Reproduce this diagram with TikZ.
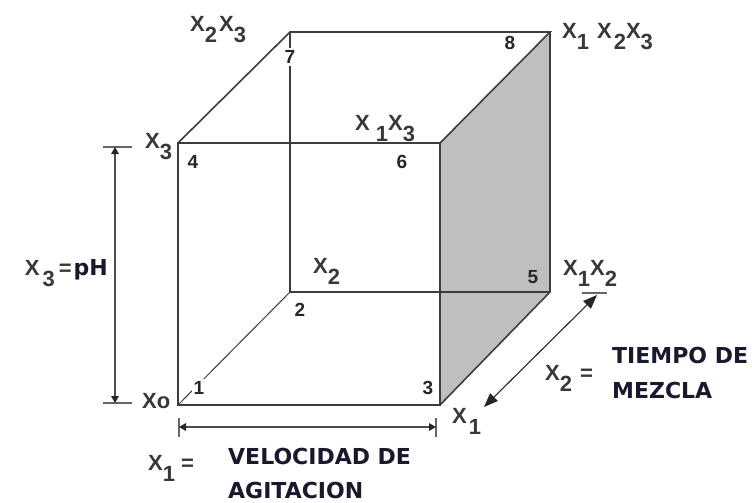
\documentclass[tikz,border=0pt]{standalone}
\usepackage{fontspec}
\setmainfont{Liberation Sans}
\newfontfamily\dvs{DejaVu Sans}
\usetikzlibrary{calc}
\definecolor{titlecol}{RGB}{25,25,45}
\definecolor{edgecol}{RGB}{60,60,60}
\newcommand\sbx[1]{\raisebox{-11pt}{#1}}
% filled arrow tip: tip point, point it comes from, length, half width
\newcommand\arrtip[4]{\fill[black!85] (#1) -- ($(#1)!#3!(#2)!#4!90:(#1)$) -- ($(#1)!#3!(#2)!#4!-90:(#1)$) -- cycle;}
\tikzset{
  edge/.style={draw=edgecol, line width=1.6pt, line join=miter},
  thinedge/.style={draw=edgecol, line width=1pt},
  dimline/.style={draw=black!70, line width=1.4pt},
  tickline/.style={draw=black!60, line width=1.4pt},
  lbl/.style={font=\bfseries\fontsize{22}{22}\selectfont, inner sep=0pt, anchor=base west, text=black!78},
  num/.style={font=\bfseries\fontsize{19}{19}\selectfont, inner sep=2pt, text=black!85},
  ttl/.style={font=\dvs\bfseries\fontsize{22}{26}\selectfont, text=titlecol, inner sep=0pt, anchor=base west},
}
\begin{document}
\begin{tikzpicture}[x=1pt,y=1pt]
\useasboundingbox (0,0) rectangle (752,-503);
% cube corners
\coordinate (c1) at (178,-405);
\coordinate (c3) at (440,-405);
\coordinate (c4) at (178,-143);
\coordinate (c6) at (440,-143);
\coordinate (c2) at (290,-292);
\coordinate (c5) at (550,-292);
\coordinate (c7) at (290,-32);
\coordinate (c8) at (550,-32);
% shaded side
\fill[gray!50] (c6) -- (c8) -- (c5) -- (c3) -- cycle;
% hidden edges
\draw[thinedge] (c1) -- (c2);
\draw[edge] (c7) -- (c2) -- (c5);
% visible edges
\draw[edge] (c4) -- (c6) -- (c3) -- (c1) -- cycle;
\draw[edge] (c4) -- (c7) -- (c8) -- (c6);
\draw[edge] (c8) -- (c5) -- (c3);
% vertex numbers
\node[num, fill=white] (n1) at (199,-388) {1};
\node[num] (n2) at (300,-310) {2};
\node[num] (n3) at (428,-388) {3};
\node[num] (n4) at (193,-162) {4};
\node[num] (n5) at (533,-277) {5};
\node[num] (n6) at (402,-162) {6};
\node[num, fill=white] (n7) at (290,-57) {7};
\node[num] (n8) at (510,-43) {8};
% left dimension (x3)
\coordinate (vt) at (115,-147);
\coordinate (vb) at (115,-403);
\coordinate (vtl) at (103,-147);
\coordinate (vtr) at (132,-147);
\coordinate (vbl) at (103,-403);
\coordinate (vbr) at (132,-403);
\draw[tickline] (vtl) -- (vtr);
\draw[tickline] (vbl) -- (vbr);
\draw[dimline, shorten <=4pt, shorten >=4pt] (vt) -- (vb);
\arrtip{vt}{vb}{7pt}{4pt}
\arrtip{vb}{vt}{7pt}{4pt}
% bottom dimension (x1)
\coordinate (hl) at (179,-427);
\coordinate (hr) at (436,-427);
\coordinate (hlt) at (179,-418);
\coordinate (hlb) at (179,-437);
\coordinate (hrt) at (436,-418);
\coordinate (hrb) at (436,-437);
\draw[tickline] (hlt) -- (hlb);
\draw[tickline] (hrt) -- (hrb);
\draw[dimline, shorten <=4pt, shorten >=4pt] (hl) -- (hr);
\arrtip{hl}{hr}{7pt}{4pt}
\arrtip{hr}{hl}{7pt}{4pt}
% diagonal dimension (x2)
\coordinate (dl) at (484,-407);
\coordinate (du) at (597,-295);
\coordinate (dua) at (582,-293);
\coordinate (dub) at (607,-293);
\draw[black!60, line width=1.2pt] (dua) -- (dub);
\draw[black!85, line width=1.1pt, shorten <=8pt, shorten >=8pt] (dl) -- (du);
\arrtip{du}{dl}{14pt}{5.5pt}
\arrtip{dl}{du}{14pt}{5.5pt}
% X labels
\node[lbl] (l23) at (190,-32) {X\sbx{2}\hspace{2pt}X\sbx{3}};
\node[lbl] (l123) at (562,-39) {X\sbx{1}\hspace{8pt}X\hspace{2pt}\sbx{2}X\sbx{3}};
\node[lbl] (l13) at (355,-130) {X\hspace{6pt}\sbx{1}X\sbx{3}};
\node[lbl] (l3) at (145,-148) {X\sbx{3}};
\node[lbl] (l2) at (313,-273) {X\sbx{2}};
\node[lbl] (l12) at (563,-275) {X\sbx{1}X\sbx{2}};
\node[lbl] (l1) at (452,-423) {X\hspace{2pt}\sbx{1}};
\node[lbl] (l0) at (142,-408) {Xo};
\node[lbl] (lx2) at (545,-380) {X\sbx{2}\hspace{8pt}=};
\node[lbl] (lx1) at (148,-470) {X\sbx{1}\hspace{6pt}=};
\node[lbl, anchor=base east] (lx3) at (108,-275) {X\hspace{3pt}\sbx{3}\hspace{4pt}=\hspace{2pt}{\dvs\bfseries\fontsize{22}{22}\selectfont\color{titlecol}pH}};
% titles
\node[ttl] (t1a) at (228,-464) {VELOCIDAD DE};
\node[ttl] (t1b) at (228,-498) {AGITACION};
\node[ttl] (t2a) at (612,-363) {TIEMPO DE};
\node[ttl] (t2b) at (612,-398) {MEZCLA};
\end{tikzpicture}
\end{document}
